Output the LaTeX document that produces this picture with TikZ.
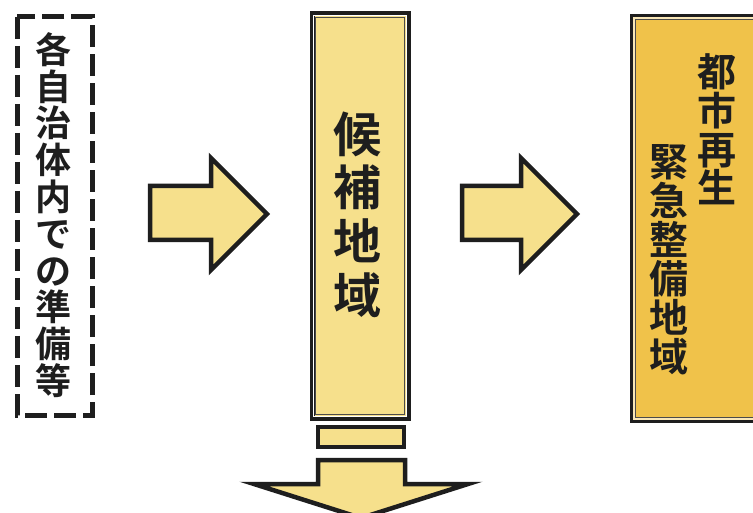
\documentclass[tikz,border=0pt]{standalone}
\usepackage{fontspec}
\newfontfamily\cjk{Noto Sans CJK JP}[BoldFont={* Bold}]
\newcommand\mytightlines{\lineskiplimit=-100pt\relax\lineskip=0pt\relax}
\definecolor{lightfill}{HTML}{F6E08C}
\definecolor{goldfill}{HTML}{F0C24A}
\definecolor{edge}{HTML}{1E1E1E}
\tikzset{
  arrowshape/.style={fill=lightfill, draw=edge, line width=4.5pt, line join=miter},
  coltext/.style={align=center, inner sep=0pt, text=edge},
}
\begin{document}
\begin{tikzpicture}[x=1pt,y=-1pt]
\useasboundingbox (0,0) rectangle (753,513);
\fill[white] (0,0) rectangle (753,513);
\begin{scope}
\clip (0,0) rectangle (753,513);
% left dashed box
\draw[edge, line width=5pt, dash pattern=on 22pt off 7pt] (17,17) rectangle (92,415);
\node[coltext, font=\cjk\bfseries\fontsize{36}{36.8}\selectfont\mytightlines] (prep) at (53,215)
  {各\\自\\治\\体\\内\\で\\の\\準\\備\\等};
% arrow 1
\draw[arrowshape] (150,186) -- (211,186) -- (211,158) -- (267,214) -- (211,270) -- (211,240) -- (150,240) -- cycle;
% middle box
\node[draw=edge, line width=5pt, fill=lightfill, minimum width=96pt, minimum height=404pt, inner sep=0pt] (cand) at (360,216) {};
\draw[white, line width=1.5pt] ([shift={(4,-4)}]cand.south west) rectangle ([shift={(-4,4)}]cand.north east);
\draw[edge!80, line width=1.2pt] ([shift={(5.8,-5.8)}]cand.south west) rectangle ([shift={(-5.8,5.8)}]cand.north east);
\node[coltext, font=\cjk\bfseries\fontsize{48}{53.7}\selectfont\mytightlines] (candtext) at (357.5,214.5) {候\\補\\地\\域};
% arrow 2
\draw[arrowshape] (462,186) -- (521,186) -- (521,158) -- (577,214) -- (521,270) -- (521,240) -- (462,240) -- cycle;
% right box
\node[draw=edge, line width=5pt, fill=goldfill, minimum width=160pt, minimum height=404pt, inner sep=0pt, anchor=north west] (urban) at (630,14) {};
\draw[white!60!goldfill, line width=1.5pt] ([shift={(4,-4)}]urban.south west) rectangle ([shift={(-4,4)}]urban.north east);
\draw[edge!80, line width=1.2pt] ([shift={(5.8,-5.8)}]urban.south west) rectangle ([shift={(-5.8,5.8)}]urban.north east);
\node[coltext, font=\cjk\bfseries\fontsize{39}{38.8}\selectfont\mytightlines] (urban1) at (716.5,129.5) {都\\市\\再\\生};
\node[coltext, font=\cjk\bfseries\fontsize{39}{39}\selectfont\mytightlines] (urban2) at (668.5,260) {緊\\急\\整\\備\\地\\域};
% small bar below middle box
\node[draw=edge, line width=4.5pt, fill=lightfill, minimum width=86pt, minimum height=20pt, inner sep=0pt] (bar) at (361,437) {};
% down arrow
\draw[arrowshape] (318,460) -- (405,460) -- (405,484) -- (468,484) -- (361,518) -- (254,484) -- (318,484) -- cycle;
\end{scope}
\end{tikzpicture}
\end{document}
